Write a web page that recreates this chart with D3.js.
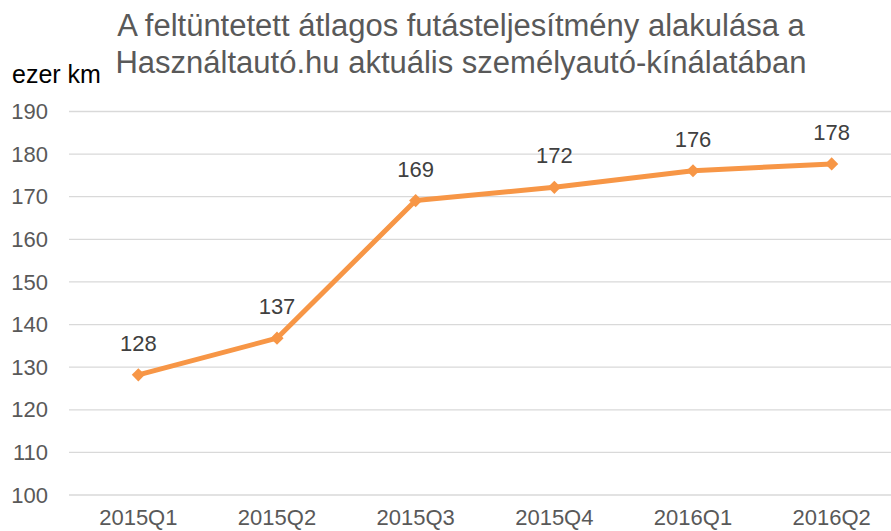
<!DOCTYPE html>
<html>
<head>
<meta charset="utf-8">
<script src="https://cdn.jsdelivr.net/npm/d3@7"></script>
<style>
  body { margin: 0; background: #fff; }
  svg { display: block; font-family: "Liberation Sans", Arial, sans-serif; }
</style>
</head>
<body>
<svg id="chart" width="891" height="531"></svg>
<script>
const titleLines = [
  "A feltüntetett átlagos futásteljesítmény alakulása a",
  "Használtautó.hu aktuális személyautó-kínálatában"
];
const unitLabel = "ezer km";
const quarters = ["2015Q1", "2015Q2", "2015Q3", "2015Q4", "2016Q1", "2016Q2"];
const mileage = [128.2, 136.8, 169.1, 172.2, 176.1, 177.7];
const yTicks = [100, 110, 120, 130, 140, 150, 160, 170, 180, 190];

const svg = d3.select("#chart");
const width = +svg.attr("width");

const x = d3.scalePoint().domain(quarters).range([69, 901]).padding(0.5);
const y = d3.scaleLinear().domain([100, 190]).range([495, 111.5]);

// gridlines
svg.append("g")
  .selectAll("line")
  .data(yTicks)
  .join("line")
  .attr("x1", 69)
  .attr("x2", width)
  .attr("y1", (d) => y(d))
  .attr("y2", (d) => y(d))
  .attr("stroke", "#d9d9d9")
  .attr("stroke-width", 1.3);

// y tick labels
svg.append("g")
  .selectAll("text")
  .data(yTicks)
  .join("text")
  .attr("x", 48)
  .attr("y", (d) => y(d))
  .attr("dy", "0.35em")
  .attr("text-anchor", "end")
  .attr("font-size", 22)
  .attr("fill", "#595959")
  .text((d) => d);

// x labels
svg.append("g")
  .selectAll("text")
  .data(quarters)
  .join("text")
  .attr("x", (d) => x(d))
  .attr("y", 525)
  .attr("text-anchor", "middle")
  .attr("font-size", 22)
  .attr("fill", "#595959")
  .text((d) => d);

// title
svg.append("text")
  .attr("text-anchor", "middle")
  .attr("font-size", 31)
  .attr("fill", "#595959")
  .selectAll("tspan")
  .data(titleLines)
  .join("tspan")
  .attr("x", 461)
  .attr("y", (d, i) => 36 + i * 37)
  .text((d) => d);

svg.append("text")
  .attr("x", 12)
  .attr("y", 83)
  .attr("font-size", 25)
  .attr("fill", "#000")
  .text(unitLabel);

const series = quarters.map((q, i) => ({ q, v: mileage[i] }));

svg.append("path")
  .datum(series)
  .attr("fill", "none")
  .attr("stroke", "#f79646")
  .attr("stroke-width", 5)
  .attr("stroke-linejoin", "round")
  .attr("d", d3.line().x((d) => x(d.q)).y((d) => y(d.v)));

svg.append("g")
  .selectAll("path")
  .data(series)
  .join("path")
  .attr("transform", (d) => `translate(${x(d.q)},${y(d.v)})`)
  .attr("d", d3.symbol(d3.symbolDiamond2, 110))
  .attr("fill", "#f79646");

svg.append("g")
  .selectAll("text")
  .data(series)
  .join("text")
  .attr("x", (d) => x(d.q))
  .attr("y", (d) => y(d.v) - 24)
  .attr("text-anchor", "middle")
  .attr("font-size", 22)
  .attr("fill", "#404040")
  .text((d) => Math.round(d.v));
</script>
</body>
</html>
